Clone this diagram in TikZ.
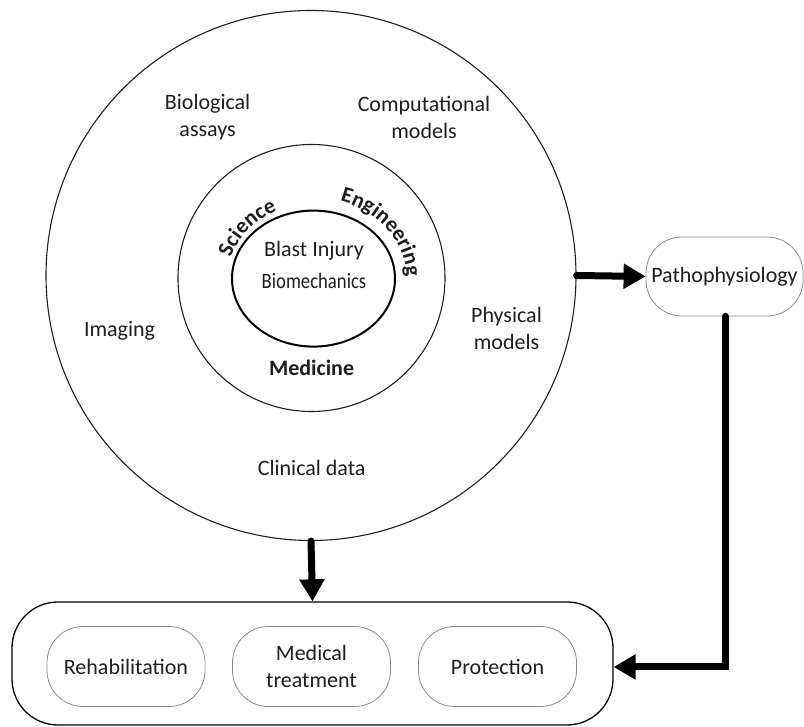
\documentclass[tikz,border=0pt]{standalone}
\usepackage{fontspec}
\setmainfont{Carlito}
\usepackage{graphicx}
\usetikzlibrary{arrows.meta,decorations.text,shapes.geometric}
\definecolor{ink}{HTML}{1E1E1E}
\definecolor{thin}{HTML}{8A8A8A}
\begin{document}
\begin{tikzpicture}[x=1pt,y=1pt,
  lbl/.style={font=\fontsize{22}{27}\selectfont, text=ink, align=center, inner sep=0pt},
  boldlbl/.style={font=\fontsize{22}{27}\selectfont\bfseries, text=ink, align=center, inner sep=0pt},
  pill/.style={draw=thin, line width=0.8pt, rounded corners=36pt, minimum width=158pt, minimum height=80pt,
    font=\fontsize{22}{27}\selectfont, text=ink, align=center, inner sep=0pt},
  bigarrow/.style={line width=7pt, draw=black, line cap=round, line join=miter,
    -{Triangle[length=22pt,width=24pt]}}
]
\useasboundingbox (0,0) rectangle (804,727);
% circles
\node (outer) [circle, draw=ink, line width=1.1pt, minimum size=530pt, inner sep=0pt] at (311,451.5) {};
\node (middle) [circle, draw=ink, line width=1.1pt, minimum size=267pt, inner sep=0pt] at (311.5,449) {};
\node (inner) [ellipse, draw=black, line width=2pt, minimum width=163pt, minimum height=136pt, inner sep=0pt] at (313.5,448.4) {};
% curved labels
\path[decorate, decoration={text along path, text align=center,
  text={|\fontsize{22}{26}\selectfont\bfseries\color{ink}|Science}}]
  (313.5,448.4) ++(175:86 and 75) arc[start angle=175, end angle=105, x radius=86, y radius=75];
\path[decorate, decoration={text along path, text align=center,
  text={|\fontsize{22}{26}\selectfont\bfseries\color{ink}|Engineering}}]
  (313.5,448.4) ++(80:93 and 81) arc[start angle=80, end angle=-6, x radius=93, y radius=81];
% core text
\node (core) [lbl, font=\fontsize{22}{32}\selectfont] at (314,462) {Blast Injury\\\scalebox{0.85}[1]{Biomechanics}};
\node (med) [boldlbl] at (311.6,359) {Medicine};
% outer ring labels
\node (bio) [lbl] at (207.6,609.5) {Biological\\assays};
\node (comp) [lbl] at (424,609.5) {Computational\\models};
\node (img) [lbl] at (119.5,396) {Imaging};
\node (phys) [lbl] at (506.5,399) {Physical\\models};
\node (clin) [lbl] at (311.7,259) {Clinical data};
% pathophysiology
\node (patho) [pill, minimum width=157pt, minimum height=79pt] at (724.5,450.5) {Pathophysiology};
% bottom box
\node (app) [draw=black, line width=1.3pt, rounded corners=46pt, minimum width=601pt, minimum height=123pt, inner sep=0pt] at (312.5,63.5) {};
\node (rehab) [pill] at (126,60.5) {Rehabilitation};
\node (treat) [pill] at (311.5,60.5) {Medical\\treatment};
\node (prot) [pill] at (497.5,60.5) {Protection};
% connectors
\draw[bigarrow] (outer.east) -- (patho.west);
\draw[bigarrow] (outer.south) -- (app.north);
\coordinate (corner) at (725.5,60);
\draw[bigarrow] (patho.south -| corner) -- (corner) -- (corner -| app.east);
\end{tikzpicture}
\end{document}
